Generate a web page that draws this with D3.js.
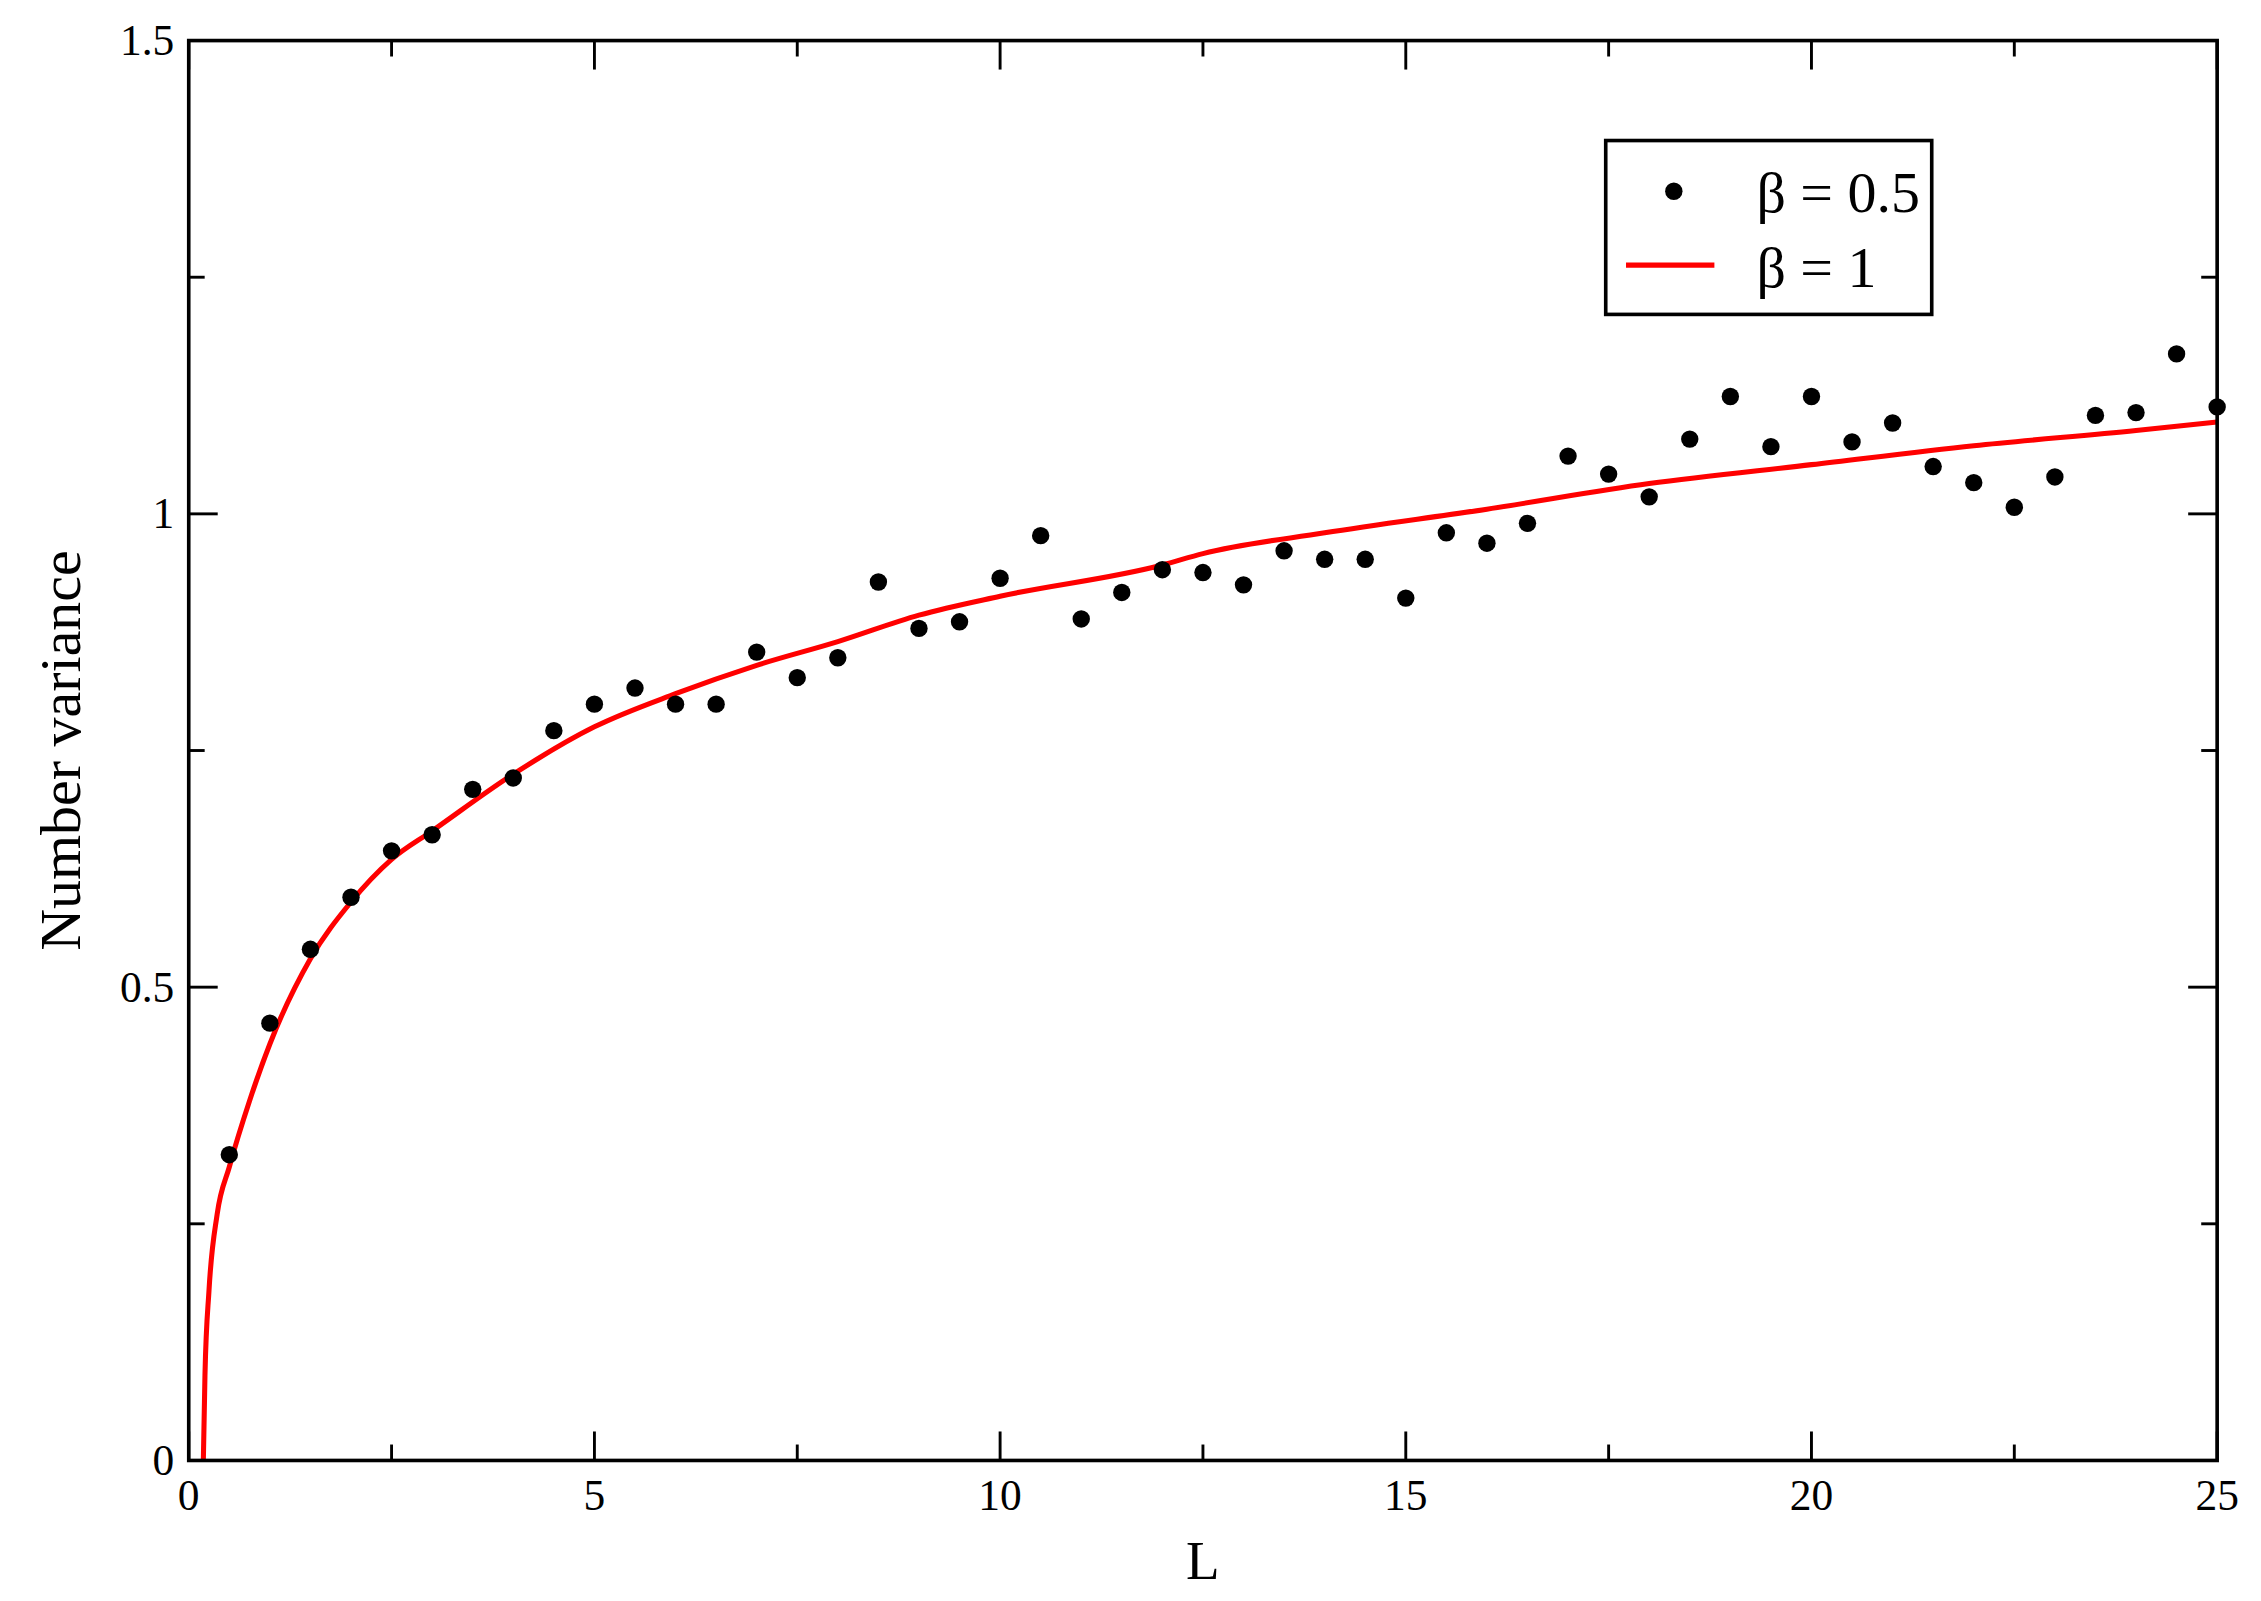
<!DOCTYPE html>
<html><head><meta charset="utf-8">
<script src="https://cdn.jsdelivr.net/npm/d3@7"></script>
<style>body{margin:0;background:#fff}</style>
</head><body><svg id="chart"></svg>
<script>
// data
const pointL = [0.5,1,1.5,2,2.5,3,3.5,4,4.5,5,5.5,6,6.5,7,7.5,8,8.5,9,9.5,10,10.5,11,11.5,12,12.5,13,13.5,14,14.5,15,15.5,16,16.5,17,17.5,18,18.5,19,19.5,20,20.5,21,21.5,22,22.5,23,23.5,24,24.5,25];
const pointV = [0.323,0.462,0.540,0.595,0.644,0.661,0.709,0.721,0.771,0.799,0.816,0.799,0.799,0.854,0.827,0.848,0.928,0.879,0.886,0.932,0.977,0.889,0.917,0.941,0.938,0.925,0.961,0.952,0.952,0.911,0.980,0.969,0.990,1.061,1.042,1.018,1.079,1.124,1.071,1.124,1.076,1.096,1.050,1.033,1.007,1.039,1.104,1.107,1.169,1.113];
const lineL = [0.18,0.2,0.25,0.35,0.5,0.75,1,1.5,2,2.5,3,4,5,6,7,8,9,10,12,12.5,14,16,18,20,22,24,25];
const lineV = [0,0.09,0.18,0.26,0.31,0.38,0.44,0.53,0.59,0.635,0.665,0.725,0.775,0.81,0.84,0.865,0.893,0.913,0.946,0.958,0.98,1.005,1.032,1.052,1.072,1.088,1.097];
const xTicks = [0,5,10,15,20,25];
const yTicks = [0,0.5,1,1.5];

const W = 1560, H = 1105;
const svg = d3.select("#chart").attr("width", 2261).attr("height", 1601)
  .attr("viewBox", `0 0 ${W} ${H}`);
const pLeft = 130, pRight = 1530, pTop = 28, pBottom = 1008;
const x = d3.scaleLinear().domain([0, 25]).range([pLeft, pRight]);
const y = d3.scaleLinear().domain([0, 1.5]).range([pBottom, pTop]);
const font = "Liberation Serif, Times New Roman, serif";

// ticks (inward, all sides)
const xMinor = d3.range(2.5, 25, 5), yMinor = d3.range(0.25, 1.5, 0.5);
const tk = svg.append("g").attr("stroke", "#000").attr("stroke-width", 2);
const xt = [...xTicks.map(v => [v, 20]), ...xMinor.map(v => [v, 11])];
const yt = [...yTicks.map(v => [v, 20]), ...yMinor.map(v => [v, 11])];
xt.forEach(([v, l]) => {
  tk.append("line").attr("x1", x(v)).attr("x2", x(v)).attr("y1", pBottom).attr("y2", pBottom - l);
  tk.append("line").attr("x1", x(v)).attr("x2", x(v)).attr("y1", pTop).attr("y2", pTop + l);
});
yt.forEach(([v, l]) => {
  tk.append("line").attr("y1", y(v)).attr("y2", y(v)).attr("x1", pLeft).attr("x2", pLeft + l);
  tk.append("line").attr("y1", y(v)).attr("y2", y(v)).attr("x1", pRight).attr("x2", pRight - l);
});

// labels
svg.append("g").selectAll("text").data(xTicks).join("text")
  .attr("x", d => x(d)).attr("y", pBottom + 34).attr("text-anchor", "middle")
  .attr("font-family", font).attr("font-size", 30).text(d => d);
svg.append("g").selectAll("text").data(yTicks).join("text")
  .attr("x", pLeft - 10).attr("y", d => y(d) + 10).attr("text-anchor", "end")
  .attr("font-family", font).attr("font-size", 30).text(d => d);
svg.append("text").attr("x", (pLeft + pRight) / 2).attr("y", 1090).attr("text-anchor", "middle")
  .attr("font-family", font).attr("font-size", 38).text("L");
svg.append("text").attr("transform", `translate(55,${(pTop + pBottom) / 2}) rotate(-90)`)
  .attr("text-anchor", "middle").attr("font-family", font).attr("font-size", 40).text("Number variance");

// red curve
svg.append("path").datum(lineL.map((l, i) => [l, lineV[i]]))
  .attr("fill", "none").attr("stroke", "#ff0000").attr("stroke-width", 3.5)
  .attr("d", d3.line().x(d => x(d[0])).y(d => y(d[1])).curve(d3.curveMonotoneX));

// points
svg.append("g").selectAll("circle").data(pointL).join("circle")
  .attr("cx", d => x(d)).attr("cy", (d, i) => y(pointV[i])).attr("r", 6).attr("fill", "#000");

// frame
svg.append("rect").attr("x", pLeft).attr("y", pTop).attr("width", pRight - pLeft).attr("height", pBottom - pTop)
  .attr("fill", "none").attr("stroke", "#000").attr("stroke-width", 2.5);

// legend
const lg = svg.append("g");
lg.append("rect").attr("x", 1108).attr("y", 97).attr("width", 225).attr("height", 120)
  .attr("fill", "#fff").attr("stroke", "#000").attr("stroke-width", 2.5);
lg.append("circle").attr("cx", 1155).attr("cy", 132).attr("r", 6).attr("fill", "#000");
lg.append("line").attr("x1", 1122).attr("x2", 1183).attr("y1", 183).attr("y2", 183)
  .attr("stroke", "#ff0000").attr("stroke-width", 3.5);
lg.append("text").attr("x", 1212).attr("y", 146).attr("font-family", font).attr("font-size", 40).text("β = 0.5");
lg.append("text").attr("x", 1212).attr("y", 198).attr("font-family", font).attr("font-size", 40).text("β = 1");
</script></body></html>
